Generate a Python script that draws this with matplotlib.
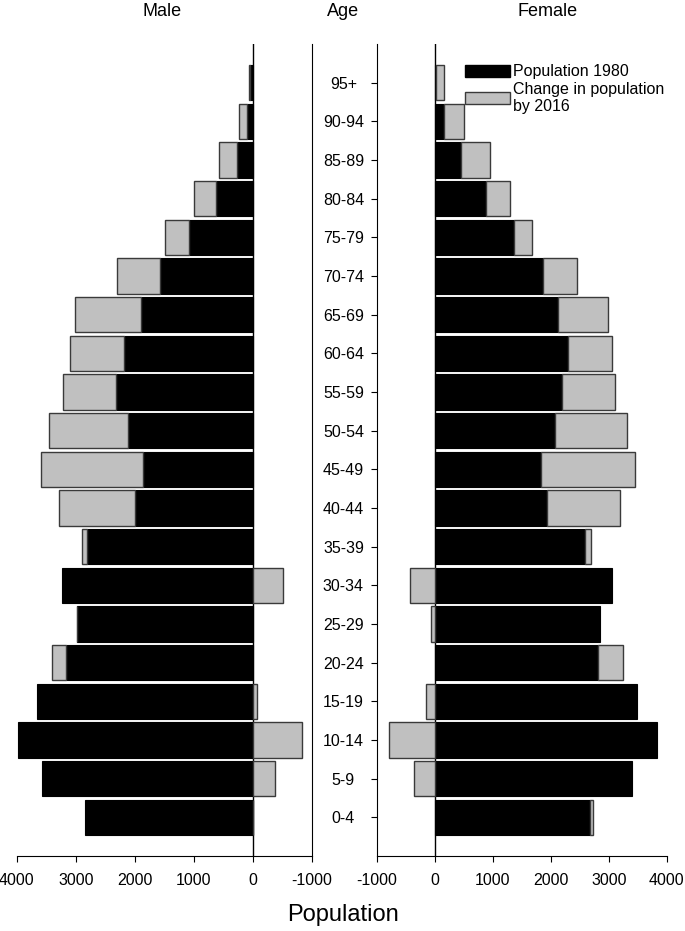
import matplotlib.pyplot as plt
from matplotlib.patches import Patch

plt.rcParams['font.family'] = ['Liberation Sans', 'DejaVu Sans']
plt.rcParams['axes.unicode_minus'] = False

# 年齢区分（下から上）
age_groups = ['0-4', '5-9', '10-14', '15-19', '20-24', '25-29', '30-34', '35-39',
              '40-44', '45-49', '50-54', '55-59', '60-64', '65-69', '70-74',
              '75-79', '80-84', '85-89', '90-94', '95+']

# 男性
male_1980 = [2840, 3570, 3970, 3660, 3160, 2970, 3240, 2810, 1990, 1860,
             2110, 2320, 2190, 1900, 1580, 1080, 630, 260, 90, 40]
male_change = [0, -380, -830, -70, 240, 10, -520, 90, 1290, 1730,
               1340, 900, 900, 1120, 720, 400, 360, 320, 140, 20]

# 女性
female_1980 = [2680, 3400, 3840, 3480, 2810, 2850, 3060, 2590, 1940, 1830,
               2070, 2200, 2300, 2120, 1860, 1370, 880, 450, 160, 30]
female_change = [40, -355, -785, -150, 430, -60, -425, 100, 1250, 1615,
                 1250, 900, 750, 865, 585, 300, 420, 500, 340, 130]

BLACK = 'black'
GRAY = '#c0c0c0'
EDGE = '#3a3a3a'
H = 0.92

fig = plt.figure(figsize=(6.85, 9.31), dpi=100)
ax_m = fig.add_axes([0.0244, 0.0806, 0.4307, 0.8721])
ax_f = fig.add_axes([0.550, 0.0806, 0.4234, 0.8721])

y = list(range(len(age_groups)))


def draw_panel(ax, base, change):
    ax.barh(y, base, height=H, color=BLACK, edgecolor=BLACK, linewidth=0.8, zorder=3)
    lefts = [b if c > 0 else 0 for b, c in zip(base, change)]
    ax.barh(y, change, left=lefts, height=H, color=GRAY, edgecolor=EDGE,
            linewidth=1.0, zorder=3)
    ax.axvline(0, color='black', linewidth=1.0, zorder=2)
    ax.set_ylim(-1, len(age_groups))
    ax.spines['top'].set_visible(False)
    ax.tick_params(axis='x', direction='out', length=4, labelsize=11.5, pad=8)
    ax.set_xticks([-1000, 0, 1000, 2000, 3000, 4000])


# 男性パネル
draw_panel(ax_m, male_1980, male_change)
ax_m.set_xlim(4000, -1000)
ax_m.spines['left'].set_visible(False)
ax_m.set_yticks([])

# 女性パネル
draw_panel(ax_f, female_1980, female_change)
ax_f.set_xlim(-1000, 4000)
ax_f.spines['right'].set_visible(False)
ax_f.set_yticks(y)
ax_f.set_yticklabels(age_groups, fontsize=11.5, ha='center')
ax_f.tick_params(axis='y', direction='out', length=4, pad=20)

handles = [Patch(facecolor=BLACK, edgecolor=BLACK),
           Patch(facecolor=GRAY, edgecolor=EDGE, linewidth=1.0)]
ax_f.legend(handles, ['Population 1980', 'Change in population\nby 2016'],
            loc='upper left', bbox_to_anchor=(0.283, 0.983), frameon=False,
            fontsize=11.5, handlelength=2.8, handleheight=0.8,
            borderaxespad=0, labelspacing=0.15, handletextpad=0.2)

# タイトル
fig.text(162 / 685, 1 - 12 / 931, 'Male', ha='center', va='center', fontsize=13)
fig.text(343 / 685, 1 - 12 / 931, 'Age', ha='center', va='center', fontsize=13)
fig.text(548 / 685, 1 - 12 / 931, 'Female', ha='center', va='center', fontsize=13)
fig.text(343 / 685, 1 - 915 / 931, 'Population', ha='center', va='center', fontsize=17)

fig.savefig('out.png', dpi=100)
